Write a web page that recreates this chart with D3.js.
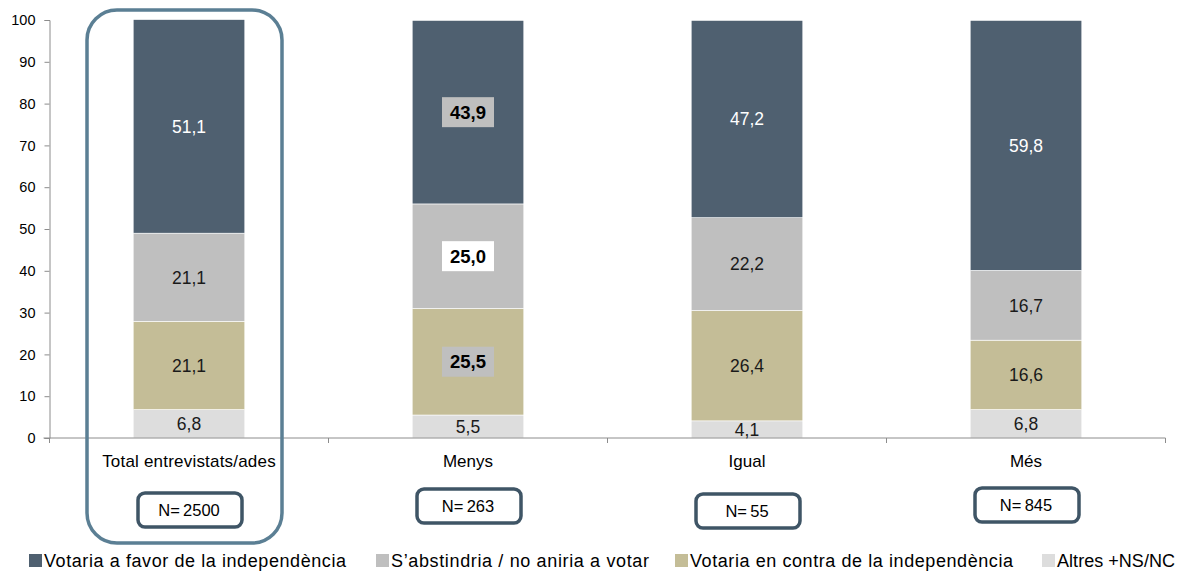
<!DOCTYPE html>
<html>
<head>
<meta charset="utf-8">
<script src="https://cdn.jsdelivr.net/npm/d3@7"></script>
<style>
  body { margin: 0; background: #fff; }
  text { font-family: "Liberation Sans", Arial, sans-serif; }
</style>
</head>
<body>
<script>
var width = 1182;
var height = 571;

// data
var categories = ["Total entrevistats/ades", "Menys", "Igual", "Més"];
var sampleSizes = ["N=2500", "N=263", "N=55", "N=845"];
var seriesNames = ["Altres +NS/NC", "Votaria en contra de la independència",
  "S\u2019abstindria / no aniria  a votar", "Votaria a favor de la independència"];
var altres = [6.8, 5.5, 4.1, 6.8];
var contra = [21.1, 25.5, 26.4, 16.6];
var abst = [21.1, 25.0, 22.2, 16.7];
var favor = [51.1, 43.9, 47.2, 59.8];
var yTicks = [0, 10, 20, 30, 40, 50, 60, 70, 80, 90, 100];

var colors = ["#dddddd", "#c4bd97", "#bfbfbf", "#4f6070"];
var legendOrder = [3, 2, 1, 0];

var margin = { left: 49.5, right: 16.5, top: 20, bottom: 133 };

var table = categories.map(function(c, i) {
  return { cat: c, s0: altres[i], s1: contra[i], s2: abst[i], s3: favor[i] };
});
var keys = ["s0", "s1", "s2", "s3"];
var stacked = d3.stack().keys(keys)(table);

var x = d3.scaleBand()
  .domain(categories)
  .range([margin.left, width - margin.right])
  .paddingInner(0.6)
  .paddingOuter(0.3);

var y = d3.scaleLinear()
  .domain([0, 100])
  .range([height - margin.bottom, margin.top]);

var svg = d3.select("body").append("svg")
  .attr("width", width)
  .attr("height", height);

// bars
svg.append("g").selectAll("g")
  .data(stacked)
  .enter().append("g")
  .attr("fill", function(d, i) { return colors[i]; })
  .selectAll("rect")
  .data(function(d) { return d; })
  .enter().append("rect")
  .attr("x", function(d) { return x(d.data.cat); })
  .attr("width", x.bandwidth())
  .attr("y", function(d) { return y(d[1]); })
  .attr("height", function(d) { return y(d[0]) - y(d[1]); })
  .attr("stroke", "#ffffff")
  .attr("stroke-width", 0.6);

// y axis
var yAxis = d3.axisLeft(y).tickValues(yTicks).tickSize(5).tickPadding(9);
var gy = svg.append("g")
  .attr("transform", "translate(" + margin.left + ",0)")
  .call(yAxis);
gy.select(".domain").attr("stroke", "#8c8c8c");
gy.selectAll(".tick line").attr("stroke", "#8c8c8c");
gy.selectAll(".tick text")
  .attr("font-size", 14.5)
  .attr("fill", "#000")
  .style("font-family", "'Liberation Sans', Arial, sans-serif");

// x axis line with boundary ticks
var step = x.step();
var bounds = d3.range(categories.length + 1).map(function(i) {
  return margin.left + i * step;
});
var gx = svg.append("g");
gx.append("line")
  .attr("x1", margin.left - 6).attr("x2", bounds[bounds.length - 1])
  .attr("y1", y(0)).attr("y2", y(0))
  .attr("stroke", "#8c8c8c");
gx.selectAll("line.tk")
  .data(bounds)
  .enter().append("line")
  .attr("class", "tk")
  .attr("x1", function(d) { return d; }).attr("x2", function(d) { return d; })
  .attr("y1", y(0)).attr("y2", y(0) + 5)
  .attr("stroke", "#8c8c8c");

// category labels
svg.append("g").selectAll("text")
  .data(categories)
  .enter().append("text")
  .attr("x", function(d) { return x(d) + x.bandwidth() / 2; })
  .attr("y", y(0) + 23)
  .attr("dy", "0.36em")
  .attr("text-anchor", "middle")
  .attr("font-size", 17)
  .attr("letter-spacing", function(d, i) { return i === 0 ? 0.2 : 0; })
  .text(function(d) { return d; });

// value labels
var fmt = function(v) { return v.toFixed(1).replace(".", ","); };
var labels = [];
stacked.forEach(function(s, si) {
  s.forEach(function(d, ci) {
    labels.push({ si: si, ci: ci, v: d.data[keys[si]], mid: (d[0] + d[1]) / 2, cat: d.data.cat });
  });
});

var lbl = svg.append("g").selectAll("g")
  .data(labels)
  .enter().append("g")
  .attr("transform", function(d) {
    return "translate(" + (x(d.cat) + x.bandwidth() / 2) + "," + y(d.mid) + ")";
  });

// highlighted labels for "Menys"
function hl(d) { return d.ci === 1 && d.si > 0; }
lbl.filter(hl)
  .append("rect")
  .attr("x", -26).attr("y", -15)
  .attr("width", 52).attr("height", 30)
  .attr("fill", function(d) { return d.si === 2 ? "#ffffff" : "#bfbfbf"; });

lbl.append("text")
  .attr("text-anchor", "middle")
  .attr("dy", "0.36em")
  .attr("font-size", function(d) { return hl(d) ? 18.5 : 17.5; })
  .attr("font-weight", function(d) { return hl(d) ? "bold" : "normal"; })
  .attr("fill", function(d) {
    if (hl(d)) return "#000";
    return d.si === 3 ? "#ffffff" : "#1a1a1a";
  })
  .text(function(d) { return fmt(d.v); });

// highlight frame around first category
var cx0 = x(categories[0]) + x.bandwidth() / 2;
svg.append("rect")
  .attr("x", cx0 - 102).attr("y", 10)
  .attr("width", 195).attr("height", 533)
  .attr("rx", 30).attr("ry", 30)
  .attr("fill", "none")
  .attr("stroke", "#5b7f94")
  .attr("stroke-width", 3.5);

// N boxes
var nOffsets = [510, 506, 511, 505];
var nb = svg.append("g").selectAll("g")
  .data(sampleSizes)
  .enter().append("g")
  .attr("transform", function(d, i) {
    return "translate(" + (x(categories[i]) + x.bandwidth() / 2) + "," + nOffsets[i] + ")";
  });
nb.append("rect")
  .attr("x", -51).attr("y", -17)
  .attr("width", 104).attr("height", 34)
  .attr("rx", 7).attr("ry", 7)
  .attr("fill", "#fff")
  .attr("stroke", "#3f5566")
  .attr("stroke-width", 3.5);
nb.append("text")
  .attr("text-anchor", "middle")
  .attr("dy", "0.36em")
  .attr("font-size", 16.5)
  .text(function(d) { return d.replace("=", "=\u2009"); });

// legend
var legendX = [29, 376, 675, 1042];
var legendW = [302, 258, 323, 118];
var lg = svg.append("g").selectAll("g")
  .data(legendOrder)
  .enter().append("g")
  .attr("transform", function(d, i) { return "translate(" + legendX[i] + ",561)"; });
lg.append("rect")
  .attr("x", 0).attr("y", -7)
  .attr("width", 13).attr("height", 13)
  .attr("fill", function(d) { return colors[d]; });
lg.append("text")
  .attr("x", 15)
  .attr("dy", "0.36em")
  .attr("font-size", 18)
  .attr("textLength", function(d, i) { return legendW[i]; })
  .attr("lengthAdjust", "spacing")
  .text(function(d) { return seriesNames[d]; });
</script>
</body>
</html>
